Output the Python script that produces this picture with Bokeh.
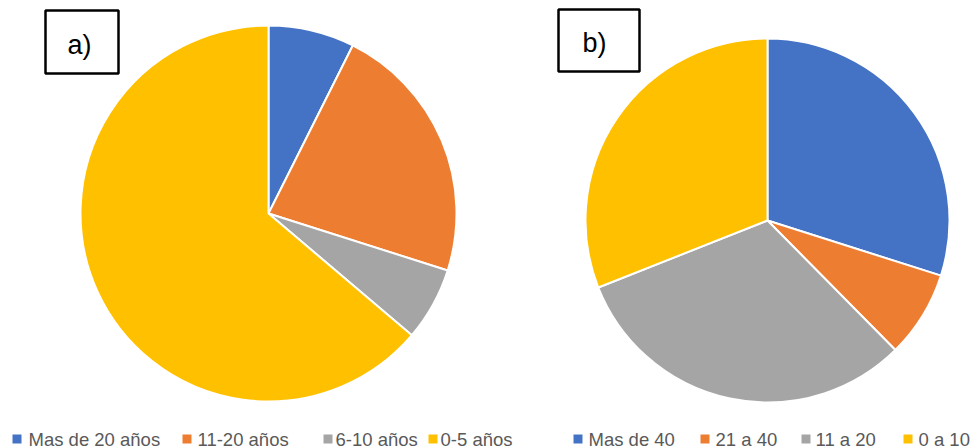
import math
from bokeh.plotting import figure
from bokeh.models import Range1d, ColumnDataSource
from bokeh.core.properties import value
from bokeh.embed import file_html
from bokeh.resources import INLINE

# ---- data ----
labels_a = ["Mas de 20 años", "11-20 años", "6-10 años", "0-5 años"]
values_a = [7.4, 22.5, 6.3, 63.8]
labels_b = ["Mas de 40", "21 a 40", "11 a 20", "0 a 10"]
values_b = [29.9, 7.7, 31.4, 31.0]
colors = ["#4472C4", "#ED7D31", "#A5A5A5", "#FFC000"]
panel_titles = ["a)", "b)"]

W, H = 972, 448
FONT = "Liberation Sans"

p = figure(width=W, height=H, x_range=Range1d(0, W), y_range=Range1d(0, H),
           output_backend="svg", toolbar_location=None, min_border=0)
p.axis.visible = False
p.grid.visible = False
p.outline_line_color = None
p.background_fill_color = "white"
p.border_fill_color = "white"


def wedges(vals, cx, cy, r):
    tot = float(sum(vals))
    starts, ends = [], []
    acc = 0.0
    for v in vals:
        starts.append(math.pi / 2 - 2 * math.pi * acc / tot)
        acc += v
        ends.append(math.pi / 2 - 2 * math.pi * acc / tot)
    src = ColumnDataSource(dict(x=[cx] * len(vals), y=[cy] * len(vals),
                                s=starts, e=ends, c=colors[:len(vals)]))
    p.wedge(x="x", y="y", radius=r, start_angle="s", end_angle="e",
            direction="clock", fill_color="c", line_color="white",
            line_width=2, source=src)


def legend(labels, sq_x, tx_x):
    src = ColumnDataSource(dict(sx=sq_x, sy=[9.5] * len(labels),
                                tx=tx_x, ty=[9.5] * len(labels),
                                t=labels, c=colors[:len(labels)]))
    p.rect(x="sx", y="sy", width=9, height=9, fill_color="c",
           line_color=None, source=src)
    p.text(x="tx", y="ty", text="t", text_font=value(FONT),
           text_font_size="18.5px", text_color="#595959",
           text_baseline="middle", text_align="left", source=src)


wedges(values_a, 268, H - 213, 188)
wedges(values_b, 767, H - 220, 182)

legend(labels_a, [16.5, 186.5, 327.5, 432.5], [28, 197, 335, 440])
legend(labels_b, [577.5, 704.5, 805.5, 907.5], [588, 715, 815, 918])

# panel label boxes
p.rect(x=[81.5, 598.5], y=[H - 41.5, H - 40], width=[73, 81], height=[63, 62],
       fill_color="white", line_color="black", line_width=2.5)
p.text(x=[79, 594], y=[H - 44, H - 42], text=panel_titles,
       text_font=value(FONT), text_font_size="27px", text_color="black",
       text_align="center", text_baseline="middle")

open("out.html", "w").write(file_html(p, INLINE))
